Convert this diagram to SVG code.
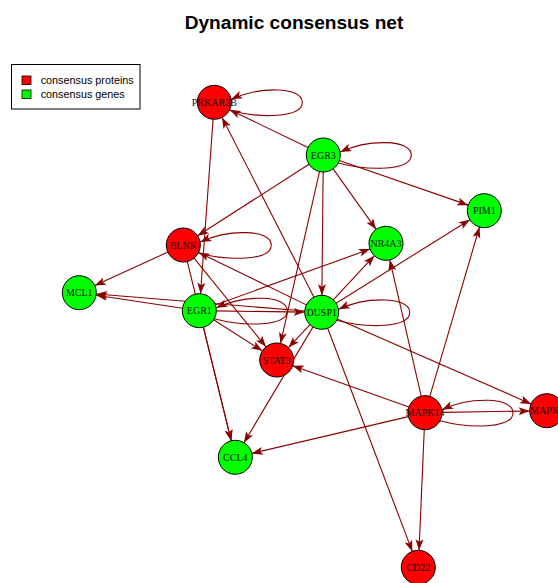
<svg xmlns="http://www.w3.org/2000/svg" width="558" height="583" viewBox="0 0 558 583">
<style>
.e{fill:none;stroke:#8B0000;stroke-width:1.1;marker-end:url(#ah)}
.n circle{stroke:#000;stroke-width:1}
.p{fill:#FF0000}
.g{fill:#00FF00}
.n text{font-family:"Liberation Serif","Times New Roman",serif;font-size:10px;fill:#111;text-anchor:middle}
.lg{font-family:"Liberation Sans",Arial,sans-serif;font-size:10.8px;fill:#000}
</style>
<defs>
<marker id="ah" viewBox="-12 -5 13 10" markerWidth="13" markerHeight="10" refX="0" refY="0" markerUnits="userSpaceOnUse" orient="auto">
<path d="M0,0 L-11,-4 L-8.5,0 L-11,4 Z" fill="#8B0000"/>
</marker>
</defs>
<rect width="558" height="583" fill="#fff"/>
<text x="294" y="29" font-family="Liberation Sans,Arial,sans-serif" font-size="19.1" font-weight="bold" text-anchor="middle">Dynamic consensus net</text>
<g id="legend">
<rect x="11.5" y="64.5" width="128.5" height="44.5" fill="#fff" stroke="#000" stroke-width="1"/>
<rect x="22" y="76" width="9" height="8.5" fill="#FF0000" stroke="#000" stroke-width="0.8"/>
<rect x="22" y="90" width="9" height="8.5" fill="#00FF00" stroke="#000" stroke-width="0.8"/>
<text class="lg" x="40.7" y="83.5">consensus proteins</text>
<text class="lg" x="40.7" y="97.5">consensus genes</text>
</g>
<g id="connectors">
<line class="e" x1="308.0" y1="147.6" x2="229.6" y2="109.7"/>
<line class="e" x1="313.96" y1="297.16" x2="222.04" y2="117.44"/>
<line class="e" x1="213.08" y1="119.26" x2="200.52" y2="293.74"/>
<line class="e" x1="309.0" y1="164.19" x2="197.6" y2="235.81"/>
<line class="e" x1="333.14" y1="168.86" x2="376.16" y2="229.44"/>
<line class="e" x1="339.37" y1="160.56" x2="468.23" y2="205.14"/>
<line class="e" x1="323.13" y1="172.0" x2="321.87" y2="295.3"/>
<line class="e" x1="319.53" y1="171.58" x2="280.47" y2="343.42"/>
<line class="e" x1="167.85" y1="252.09" x2="94.75" y2="285.61"/>
<line class="e" x1="194.02" y1="258.2" x2="265.98" y2="346.8"/>
<line class="e" x1="187.34" y1="261.51" x2="231.26" y2="440.79"/>
<line class="e" x1="306.41" y1="304.87" x2="198.59" y2="252.43"/>
<line class="e" x1="182.49" y1="308.18" x2="96.11" y2="295.22"/>
<line class="e" x1="304.75" y1="310.93" x2="96.25" y2="294.07"/>
<line class="e" x1="216.3" y1="310.92" x2="304.7" y2="312.08"/>
<line class="e" x1="215.29" y1="304.93" x2="370.01" y2="249.07"/>
<line class="e" x1="213.64" y1="319.83" x2="262.36" y2="350.87"/>
<line class="e" x1="203.35" y1="327.21" x2="231.25" y2="440.79"/>
<line class="e" x1="333.29" y1="299.86" x2="374.41" y2="255.74"/>
<line class="e" x1="310.03" y1="324.67" x2="288.37" y2="347.63"/>
<line class="e" x1="313.0" y1="326.9" x2="244.0" y2="442.7"/>
<line class="e" x1="336.12" y1="303.29" x2="469.88" y2="219.71"/>
<line class="e" x1="337.28" y1="319.11" x2="531.12" y2="403.89"/>
<line class="e" x1="327.72" y1="328.2" x2="412.28" y2="551.4"/>
<line class="e" x1="408.98" y1="407.01" x2="292.72" y2="365.69"/>
<line class="e" x1="421.19" y1="396.13" x2="389.81" y2="259.87"/>
<line class="e" x1="429.79" y1="396.39" x2="479.51" y2="227.01"/>
<line class="e" x1="408.45" y1="416.59" x2="251.85" y2="453.41"/>
<line class="e" x1="424.26" y1="429.68" x2="419.04" y2="550.32"/>
<line class="e" x1="442.0" y1="412.42" x2="529.7" y2="410.98"/>
<path class="e" d="M229.3,110.3 C259.3,118.3 302.3,118.3 302.3,102.3 C302.3,86.3 259.3,86.3 231.3,99.3"/>
<path class="e" d="M338.3,163 C368.3,171 411.3,171 411.3,155 C411.3,139 368.3,139 340.3,152"/>
<path class="e" d="M198.3,253 C228.3,261 271.3,261 271.3,245 C271.3,229 228.3,229 200.3,242"/>
<path class="e" d="M214.3,318.7 C244.3,326.7 287.3,326.7 287.3,310.7 C287.3,294.7 244.3,294.7 216.3,307.7"/>
<path class="e" d="M336.7,320.3 C366.7,328.3 409.7,328.3 409.7,312.3 C409.7,296.3 366.7,296.3 338.7,309.3"/>
<path class="e" d="M440,420.7 C470,428.7 513,428.7 513,412.7 C513,396.7 470,396.7 442,409.7"/>
</g>
<g id="PRKAR2B" class="n"><circle class="p" cx="214.3" cy="102.3" r="17"/><text x="214.3" y="105.8">PRKAR2B</text></g>
<g id="EGR3" class="n"><circle class="g" cx="323.3" cy="155" r="17"/><text x="323.3" y="158.5">EGR3</text></g>
<g id="BLNK" class="n"><circle class="p" cx="183.3" cy="245" r="17"/><text x="183.3" y="248.5">BLNK</text></g>
<g id="MCL1" class="n"><circle class="g" cx="79.3" cy="292.7" r="17"/><text x="79.3" y="296.2">MCL1</text></g>
<g id="EGR1" class="n"><circle class="g" cx="199.3" cy="310.7" r="17"/><text x="199.3" y="314.2">EGR1</text></g>
<g id="DUSP1" class="n"><circle class="g" cx="321.7" cy="312.3" r="17"/><text x="321.7" y="315.8">DUSP1</text></g>
<g id="NR4A3" class="n"><circle class="g" cx="386" cy="243.3" r="17"/><text x="386" y="246.8">NR4A3</text></g>
<g id="STAT3" class="n"><circle class="p" cx="276.7" cy="360" r="17"/><text x="276.7" y="363.5">STAT3</text></g>
<g id="PIM1" class="n"><circle class="g" cx="484.3" cy="210.7" r="17"/><text x="484.3" y="214.2">PIM1</text></g>
<g id="MAPK14" class="n"><circle class="p" cx="425" cy="412.7" r="17"/><text x="425" y="416.2">MAPK14</text></g>
<g id="MAPK" class="n"><circle class="p" cx="546.7" cy="410.7" r="17"/><text x="530" y="414.2" style="text-anchor:start">MAPK</text></g>
<g id="CCL4" class="n"><circle class="g" cx="235.3" cy="457.3" r="17"/><text x="235.3" y="460.8">CCL4</text></g>
<g id="CD22" class="n"><circle class="p" cx="418.3" cy="567.3" r="17"/><text x="418.3" y="570.8">CD22</text></g>
</svg>
